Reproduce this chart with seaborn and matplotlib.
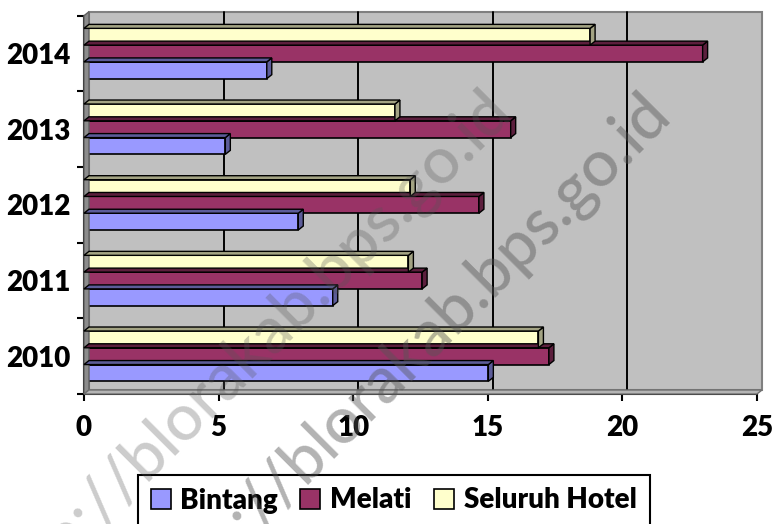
import numpy as np
import pandas as pd
import matplotlib
matplotlib.use('Agg')
import matplotlib.pyplot as plt
import seaborn as sns
from matplotlib.patches import Polygon, Rectangle, Patch
from matplotlib.transforms import ScaledTranslation, IdentityTransform

# ---- data ----
years = ['2010', '2011', '2012', '2013', '2014']
series = ['Bintang', 'Melati', 'Seluruh Hotel']
bintang = [15.02, 9.24, 7.96, 5.25, 6.79]
melati = [17.27, 12.56, 14.67, 15.85, 22.98]
seluruh = [16.88, 12.05, 12.12, 11.55, 18.80]
xticks = [0, 5, 10, 15, 20, 25]
watermark = 'http://blorakab.bps.go.id'

colors = {'Bintang': '#9999FF', 'Melati': '#993366', 'Seluruh Hotel': '#FFFFCC'}
side_colors = {'#9999FF': '#5C5C99', '#993366': '#5C1F3D', '#FFFFCC': '#A3A383'}

df = pd.DataFrame({
    'Tahun': years * 3,
    'Seri': [s for s in series for _ in years],
    'Nilai': bintang + melati + seluruh,
})

sns.set_theme(style='white')
plt.rcParams['font.family'] = ['Lato', 'DejaVu Sans']

W, H = 774, 524
fig = plt.figure(figsize=(W / 100, H / 100), dpi=100, facecolor='white')
ax = fig.add_axes([84 / W, 1 - 394 / H, (757 - 84) / W, (394 - 15.7) / H])
ax.set_facecolor('none')

order = years[::-1]
hue_order = ['Seluruh Hotel', 'Melati', 'Bintang']
sns.barplot(data=df, y='Tahun', x='Nilai', hue='Seri', order=order,
            hue_order=hue_order, palette=colors, orient='h', width=0.665,
            gap=0, edgecolor='black', linewidth=1.2, saturation=1,
            legend=False, errorbar=None, ax=ax)
bars = list(ax.patches)

ax.set_xlim(0, 25)
ax.set_ylim(4.5, -0.5)

dx, dy = 5, 4
off = ScaledTranslation(dx / 100, dy / 100, fig.dpi_scale_trans)

# back wall
ax.add_patch(Rectangle((0, 0), 1, 1, transform=ax.transAxes + off,
                       facecolor='#C0C0C0', edgecolor='#808080', lw=1.5,
                       zorder=0, clip_on=False))
for x in xticks[1:-1]:
    ax.plot([x, x], [4.5, -0.5], transform=ax.transData + off, color='black',
            lw=1.4, zorder=0.5, clip_on=False)

# left wall and floor (display coords)
(fx0, fy0), (fx1, fy1) = ax.transAxes.transform([(0, 0), (1, 1)])
fig.add_artist(Polygon([(fx0, fy0), (fx0, fy1), (fx0 + dx, fy1 + dy), (fx0 + dx, fy0 + dy)],
                       closed=True, transform=IdentityTransform(), facecolor='#8C8C8C',
                       edgecolor='#606060', lw=1, zorder=0.6))
fig.add_artist(Polygon([(fx0, fy0), (fx1, fy0), (fx1 + dx, fy0 + dy), (fx0 + dx, fy0 + dy)],
                       closed=True, transform=IdentityTransform(), facecolor='#B4B4B4',
                       edgecolor='#707070', lw=1, zorder=0.6))

# 3D faces for bars
for b in bars:
    x0, y0 = b.get_x(), b.get_y()
    w, h = b.get_width(), b.get_height()
    p = ax.transData.transform([(x0, y0), (x0 + w, y0 + h)])
    X0, X1 = p[:, 0].min(), p[:, 0].max()
    Yb, Yt = p[:, 1].min(), p[:, 1].max()
    fc = matplotlib.colors.to_hex(b.get_facecolor())
    sc = side_colors.get(fc.upper(), '#666666')
    z = 2 + Yt / 1000
    b.set_zorder(z + 0.0005)
    fig.add_artist(Polygon([(X1, Yb), (X1 + dx, Yb + dy), (X1 + dx, Yt + dy), (X1, Yt)],
                           closed=True, transform=IdentityTransform(), facecolor=sc,
                           edgecolor='black', lw=1.0, zorder=z))
    fig.add_artist(Polygon([(X0, Yt), (X0 + dx, Yt + dy), (X1 + dx, Yt + dy), (X1, Yt)],
                           closed=True, transform=IdentityTransform(), facecolor=sc,
                           edgecolor='black', lw=1.0, zorder=z))

# axes styling
for s in ['top', 'right']:
    ax.spines[s].set_visible(False)
for s in ['left', 'bottom']:
    ax.spines[s].set_color('black')
    ax.spines[s].set_linewidth(1.5)
    ax.spines[s].set_zorder(1)

ax.set_xticks(xticks)
ax.set_xticklabels([str(t) for t in xticks])
ax.set_yticks(range(len(order)))
ax.set_yticklabels(order)
ax.set_yticks([i - 0.5 for i in range(len(order) + 1)], minor=True)
ax.tick_params(axis='y', which='major', length=0, pad=10)
ax.tick_params(axis='y', which='minor', length=5, width=1.5, color='black', direction='out', left=True)
ax.tick_params(axis='x', which='major', length=5, width=1.5, color='black', direction='out', bottom=True, pad=10)
for lab in ax.get_xticklabels() + ax.get_yticklabels():
    lab.set_fontsize(20)
    lab.set_fontweight('heavy')
    lab.set_color('black')
ax.set_xlabel('')
ax.set_ylabel('')

handles = [Patch(facecolor=colors[s], edgecolor='black', lw=1.2) for s in series]
leg = fig.legend(handles, series, loc='upper left', bbox_to_anchor=(138 / W, 1 - 475 / H),
                 ncol=3, frameon=True, fancybox=False, edgecolor='black', framealpha=1,
                 prop={'size': 20, 'weight': 'heavy'}, handlelength=0.72, handleheight=0.72,
                 handletextpad=0.36, columnspacing=0.8, borderpad=0.45, borderaxespad=0)
leg.get_frame().set_linewidth(1.5)
for t in leg.get_texts():
    t.set_color('black')

# watermark
fig.text(513 / W, 1 - 113 / H, watermark, rotation=45, rotation_mode='anchor',
         ha='right', va='baseline', fontsize=47, fontweight='medium',
         color='#555555', alpha=0.3, zorder=20)
fig.text(672 / W, 1 - 116 / H, watermark, rotation=45, rotation_mode='anchor',
         ha='right', va='baseline', fontsize=47, fontweight='medium',
         color='#555555', alpha=0.45, zorder=20)

fig.savefig('out.png', dpi=100, facecolor='white')
